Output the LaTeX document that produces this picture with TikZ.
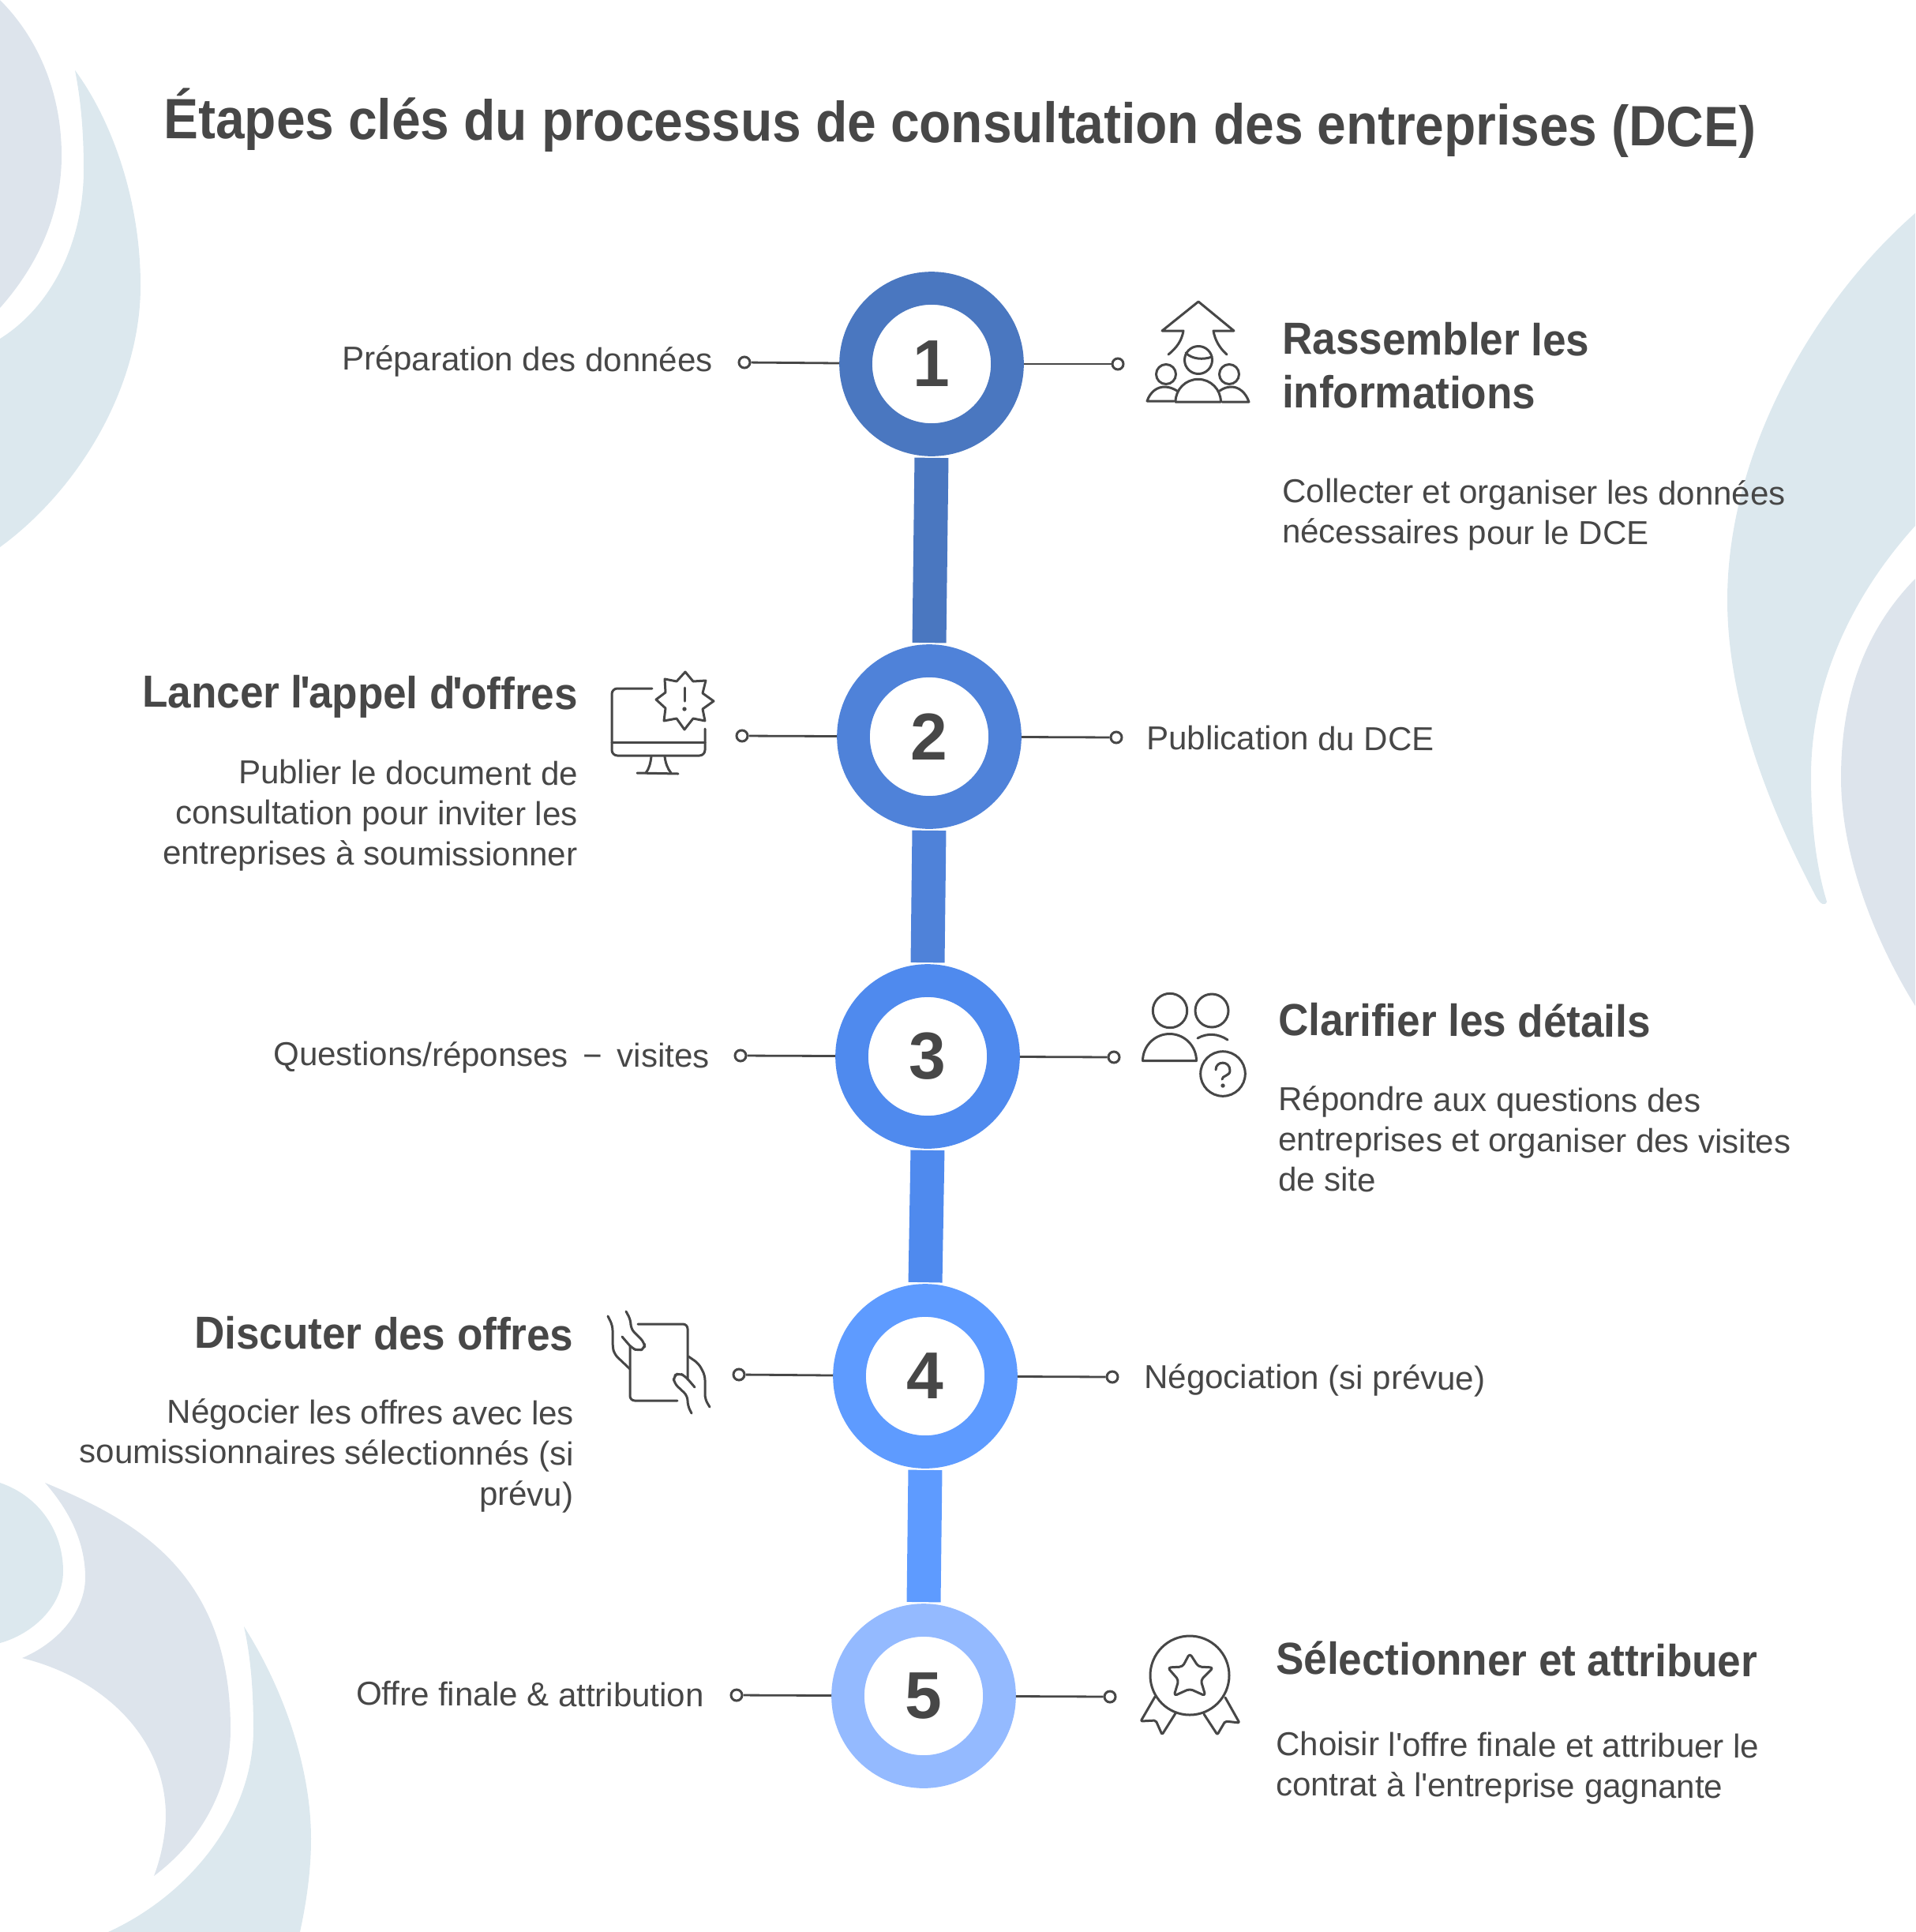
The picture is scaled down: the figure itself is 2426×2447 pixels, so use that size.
\documentclass[tikz,border=0pt]{standalone}
\usepackage{fontspec}
\setmainfont{Liberation Sans}
\newfontfamily\headfont[FakeStretch=0.93]{Liberation Sans}
\newfontfamily\titlefont[FakeStretch=0.913]{Liberation Sans}
\definecolor{textgray}{HTML}{474747}
\definecolor{bgblue}{HTML}{DCE8EE}
\definecolor{bgslate}{HTML}{DDE4EC}
\definecolor{stepa}{HTML}{4A77C0}
\definecolor{stepb}{HTML}{4F82D9}
\definecolor{stepc}{HTML}{4F8AEE}
\definecolor{stepd}{HTML}{5E9BFF}
\definecolor{stepe}{HTML}{94BAFF}
\tikzset{
  ring/.style={draw=#1, circle, fill=white, line width=20.85pt, minimum size=96pt, inner sep=0pt, text=textgray, font=\fontsize{42}{42}\selectfont\bfseries},
  bar/.style={draw=#1, line width=21.5pt, shorten >=1pt, shorten <=1pt},
  dot/.style={draw=textgray, circle, line width=1.5pt, minimum size=7pt, inner sep=0pt},
  lead/.style={draw=textgray, line width=1.4pt},
  icon/.style={draw=textgray, line width=1.5pt, line cap=round, line join=round},
  heading/.style={text=textgray, rotate=-0.3, inner sep=0pt, align=#1, font=\fontsize{28.5}{34}\headfont\bfseries},
  body/.style={text=textgray, rotate=-0.3, inner sep=0pt, align=#1, font=\fontsize{21}{25.6}\selectfont}
}
\begin{document}
\begin{tikzpicture}[x=0.5pt,y=-0.5pt]
\useasboundingbox (0,0) rectangle (2426,2447);

% Background top left
\fill[bgslate] (0,0) .. controls (50,50) and (78,120) .. (78,197) .. controls (78,280) and (40,345) .. (0,390) -- cycle;
\fill[bgblue] (95,89) .. controls (140,150) and (178,250) .. (178,362) .. controls (178,490) and (100,620) .. (0,693) -- (0,429) .. controls (70,385) and (106,300) .. (106,215) .. controls (106,170) and (103,130) .. (95,89) -- cycle;

% Background right
\fill[bgblue] (2426,270) .. controls (2300,380) and (2188,570) .. (2188,760) .. controls (2188,900) and (2250,1040) .. (2300,1135) .. controls (2306,1146) and (2312,1148) .. (2314,1142) .. controls (2298,1090) and (2294,1030) .. (2294,983) .. controls (2294,860) and (2350,750) .. (2426,666) -- cycle;
\fill[bgslate] (2426,733) .. controls (2370,790) and (2332,870) .. (2332,985) .. controls (2332,1090) and (2380,1200) .. (2426,1274) -- cycle;

% Background bottom left
\fill[bgblue] (0,1878) .. controls (50,1895) and (80,1940) .. (80,1990) .. controls (80,2035) and (40,2070) .. (0,2081) -- cycle;
\fill[bgslate] (57,1878) .. controls (170,1925) and (292,1990) .. (292,2190) .. controls (292,2270) and (250,2335) .. (195,2376) .. controls (205,2350) and (210,2320) .. (210,2300) .. controls (210,2200) and (130,2125) .. (28,2100) .. controls (75,2080) and (108,2040) .. (108,1998) .. controls (108,1950) and (85,1910) .. (57,1878) -- cycle;
\fill[bgblue] (309,2060) .. controls (360,2140) and (394,2240) .. (394,2329) .. controls (394,2370) and (388,2410) .. (380,2447) -- (137,2447) .. controls (240,2400) and (321,2300) .. (321,2190) .. controls (321,2145) and (318,2100) .. (309,2060) -- cycle;

% Title
\node[text=textgray, rotate=-0.3, inner sep=0pt, font=\fontsize{36}{36}\titlefont\bfseries] (title) at (1216,156) {Étapes clés du processus de consultation des entreprises (DCE)};

% Steps
\node[ring=stepa] (step1) at (1180,461) {1};
\node[ring=stepb] (step2) at (1177,933) {2};
\node[ring=stepc] (step3) at (1175,1338) {3};
\node[ring=stepd] (step4) at (1172,1743) {4};
\node[ring=stepe] (step5) at (1170,2148) {5};

\draw[bar=stepa] (step1.south) -- (step2.north);
\draw[bar=stepb] (step2.south) -- (step3.north);
\draw[bar=stepc] (step3.south) -- (step4.north);
\draw[bar=stepd] (step4.south) -- (step5.north);

% Dots and leads
\node[dot] (left1) at (943,459) {};
\node[dot] (right1) at (1416,461) {};
\node[dot] (left2) at (940,932) {};
\node[dot] (right2) at (1414,934) {};
\node[dot] (left3) at (938,1337) {};
\node[dot] (right3) at (1411,1339) {};
\node[dot] (left4) at (936,1741) {};
\node[dot] (right4) at (1409,1744) {};
\node[dot] (left5) at (933,2147) {};
\node[dot] (right5) at (1406,2149) {};

\draw[lead] (left1) -- (step1);
\draw[lead] (step1) -- (right1);
\draw[lead] (left2) -- (step2);
\draw[lead] (step2) -- (right2);
\draw[lead] (left3) -- (step3);
\draw[lead] (step3) -- (right3);
\draw[lead] (left4) -- (step4);
\draw[lead] (step4) -- (right4);
\draw[lead] (left5) -- (step5);
\draw[lead] (step5) -- (right5);

% Step 1 texts
\node[body=right, anchor=east] (note1) at (903,460) {Préparation des données};
\node[heading=left, anchor=west] (head1) at (1624,462) {Rassembler les\\informations};
\node[body=left, anchor=west] (text1) at (1624,651) {Collecter et organiser les données\\nécessaires pour le DCE};

% Step 2 texts
\node[heading=right, anchor=east] (head2) at (732,884) {Lancer l\kern-1.5pt\textquotesingle\kern-1.5pt appel d\kern-1.5pt\textquotesingle\kern-1.5pt offres};
\node[body=right, anchor=east] (text2) at (732,1035) {Publier le document de\\consultation pour inviter les\\entreprises à soumissionner};
\node[body=left, anchor=west] (note2) at (1452,934) {Publication du DCE};

% Step 3 texts
\node[body=right, anchor=east] (note3) at (899,1341) {Questions/réponses\, − \,visites};
\node[heading=left, anchor=west] (head3) at (1619,1291) {Clarifier les détails};
\node[body=left, anchor=west] (text3) at (1619,1442) {Répondre aux questions des\\entreprises et organiser des visites\\de site};

% Step 4 texts
\node[heading=right, anchor=east] (head4) at (727,1690) {Discuter des offres};
\node[body=right, anchor=east] (text4) at (727,1845) {Négocier les offres avec les\\soumissionnaires sélectionnés (si\\prévu)};
\node[body=left, anchor=west] (note4) at (1449,1747) {Négociation (si prévue)};

% Step 5 texts
\node[body=right, anchor=east] (note5) at (892,2147) {Offre finale \& attribution};
\node[heading=left, anchor=west] (head5) at (1616,2100) {Sélectionner et attribuer};
\node[body=left, anchor=west] (text5) at (1616,2238) {Choisir l\textquotesingle offre finale et attribuer le\\contrat à l\textquotesingle entreprise gagnante};

% Icon 1
\draw[icon] (1480,449) .. controls (1491,440) and (1497,431) .. (1499,419) -- (1472,419) -- (1518,382) -- (1563,419) -- (1537,419) .. controls (1539,431) and (1545,441) .. (1554,449);
\draw[icon] (1518,456) circle (17.5);
\draw[icon] (1502,447) .. controls (1510,455) and (1524,456) .. (1535,452);
\draw[icon] (1477,474) circle (12.5);
\draw[icon] (1557,474) circle (12.5);
\draw[icon] (1489,509) arc (180:360:28.7) -- cycle;
\draw[icon] (1487,508) -- (1453,508) .. controls (1457,496) and (1466,490) .. (1475,490) .. controls (1481,490) and (1486,492) .. (1491,495);
\draw[icon] (1548,509) -- (1582,509) .. controls (1578,497) and (1569,490) .. (1560,490) .. controls (1554,490) and (1549,492) .. (1545,495);

% Icon 2
\draw[icon, rounded corners=3.5pt] (826,872) -- (775,872) -- (775,957) -- (893,957) -- (893,923);
\draw[icon] (775,940) -- (893,940);
\draw[icon] (825,958) .. controls (824,967) and (822,974) .. (818,979);
\draw[icon] (842,958) .. controls (843,967) and (846,974) .. (850,979);
\draw[icon] (807,979) -- (859,980);
\draw[icon] (868,851) -- (878,863) -- (894,862) -- (890,878) -- (904,888) -- (890,898) -- (893,913) -- (878,910) -- (867,924) -- (857,910) -- (841,913) -- (843,897) -- (831,886) -- (843,877) -- (842,860) -- (857,863) -- cycle;
\draw[icon] (867,871) -- (867,888);
\fill[textgray] (867,898) circle (2.7);

% Icon 3
\draw[icon] (1482,1280) circle (21.7);
\draw[icon] (1535,1280) circle (21);
\draw[icon] (1447.5,1343.5) arc (180:360:34) -- cycle;
\draw[icon] (1517,1315) .. controls (1529,1308) and (1543,1309) .. (1555,1317);
\draw[icon] (1549,1360) circle (28.3);
\draw[icon] (1540,1355) .. controls (1540,1343) and (1558,1343) .. (1558,1356) .. controls (1558,1363) and (1548,1362) .. (1548,1367);
\fill[textgray] (1549,1375) circle (2.7);

% Icon 4
\draw[icon, rounded corners=3pt] (808,1677) -- (871,1677) -- (871,1747);
\draw[icon, rounded corners=3pt] (798,1705) -- (798,1774) -- (858,1774);
\draw[icon, rounded corners=3pt] (770,1667) -- (776,1679) -- (776,1705) -- (778,1715) -- (798,1734);
\draw[icon, rounded corners=3pt] (793,1661) -- (799,1672) -- (799,1683) -- (816,1700) -- (817,1708) -- (808,1711) -- (800,1707) -- (788,1693);
\draw[icon, rounded corners=3pt] (872,1718) -- (885,1727) -- (893,1742) -- (893,1772) -- (899,1782);
\draw[icon, rounded corners=3pt] (876,1790) -- (871,1780) -- (871,1768) -- (854,1752) -- (853,1743) -- (860,1739) -- (868,1743) -- (880,1757);

% Icon 5
\draw[icon] (1507,2122) circle (50);
\draw[icon, rounded corners=2pt] (1507,2094) -- (1518,2111) -- (1537,2112) -- (1521,2128) -- (1527,2148) -- (1507,2139) -- (1487,2148) -- (1493,2128) -- (1479,2112) -- (1498,2111) -- cycle;
\draw[icon, rounded corners=1pt] (1463,2149) -- (1445,2180) -- (1464,2179) -- (1472,2197) -- (1489,2170);
\draw[icon, rounded corners=1pt] (1552,2150) -- (1570,2182) -- (1552,2180) -- (1542,2197) -- (1525,2171);
\end{tikzpicture}
\end{document}
